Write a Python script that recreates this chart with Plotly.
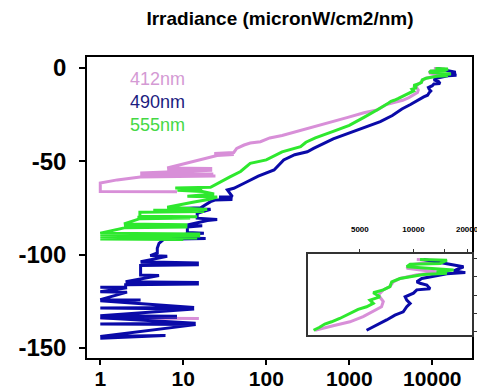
import plotly.graph_objects as go

# ---- data: irradiance (micronW/cm2/nm) vs depth (m) ----
irr_412 = [10440, 14125, 9580, 9170, 11000, 14000, 10500, 8405, 7700, 7380, 6770, 6350, 6770, 6620, 5220, 4400, 3540, 2800,
           2155, 1500, 960, 620, 390, 250, 155, 110, 85, 64, 54, 44, 40.6, 23.6, 40.6, 25.5, 18, 12, 9, 6.4, 22.3, 6.4, 22.3,
           3.03, 23, 3.03, 24.4, 3.03, 1.6, 1.0, 1.0, 8.4,
           None, 1.0, 15.4]
dep_412 = [-0.3, -0.6, -1.8, -2.7, -3.2, -3.8, -4.5, -5.5, -6.4, -7.7, -8.6, -10.0, -11.8, -13.2, -15.9, -17.3, -18.4, -19.6,
           -22.5, -24.0, -26.5, -28.8, -31.5, -33.5, -36.2, -37.5, -39.5, -40.2, -41.3, -43.1, -45.3, -45.8, -46.4, -46.9, -48.5, -50.5, -52.0, -53.6, -53.9, -54.4, -54.8,
           -56.3, -56.8, -57.4, -57.9, -58.4, -60.0, -61.7, -66.2, -66.4,
           None, -134.0, -134.3]

irr_490 = [11380, 14125, 16800, 19100, 16800, 19540, 15410, 12965, 11140, 10440, 10890, 11885, 12400, 10440, 10000, 8980, 9170, 9580, 9170, 8760, 7870, 7070, 6210, 5455,
           4300, 3300, 2362, 1600, 938, 640, 371, 312, 220, 162, 124, 80, 54, 40.6, 34,
           39, 27, 39, 24, 21.3, 16.2, 9.2, 21.3, 14.7, 14.7, 25.6, 19.5, 11.2, 16.9, 11.2, 11.2, 17.7, 11.2,
           5.86, 18.6, 5.86, 5.1, 4.86, 4.86, 4.0, 6.4, 3.06, 15.4, 3.06, 15.4, 3.06, 3.06, 5.1,
           2.02, 15.4, 2.02, 15.4, 2.02, 2.02, 1.0, 2.1, 1.0, 2.1, 1.0, 3.06, 1.0,
           13.5, 1.0, 13.5, 1.0, 8.4, 1.0, 8.4, 1.0, 14.1, 1.0, 14.1, 1.0, 2.4, 6.1, 1.0]
dep_490 = [-0.3, -1.2, -1.8, -2.3, -3.4, -3.9, -4.2, -4.8, -5.5, -6.4, -6.8, -7.3, -8.3, -8.6, -9.5, -10.5, -11.4, -12.3, -13.2, -14.6, -15.5, -16.8, -18.1, -19.6,
           -22.0, -25.5, -28.8, -31.5, -35.0, -38.0, -43.1, -44.9, -46.5, -49.3, -54.7, -58.0, -61.8, -64.5, -65.4,
           -69.0, -69.2, -70.5, -70.8, -71.7, -75.0, -75.3, -75.8, -77.9, -80.5, -81.3, -81.8, -84.2, -84.6, -85.2, -88.2, -88.6, -89.0,
           -91.0, -91.4, -91.8, -94.0, -96.7, -99.2, -100.6, -101.0, -103.9, -104.5, -104.8, -105.5, -105.9, -111.0, -111.3,
           -114.6, -115.0, -115.4, -115.8, -116.2, -117.4, -117.6, -117.8, -120.0, -120.2, -124.2, -124.4, -124.8,
           -128.4, -128.7, -129.2, -132.8, -133.1, -133.4, -133.7, -133.9, -136.9, -137.3, -137.6, -144.0, -143.7, -143.5, -144.9]

irr_555 = [10890, 15410, 14125, 9580, 9170, 11885, 16800, 13500, 15410, 11380, 10000, 8405, 7550, 7380, 6770, 5950, 6480, 5700, 5950, 5455, 4890, 4590, 4207, 3856, 3470, 3180, 2974, 2750,
           2155, 1500, 1000, 640, 390, 300, 259, 155, 120, 100, 64, 49, 36, 28, 21.3, 8.0, 16.9, 8.5, 17, 23.5, 11.2, 25.6, 20, 13, 9, 6.4,
           19.4, 4.35, 17.9, 3.0, 3.0, 14.7, 2.8, 12.1, 3.0, 1.93, 11.2, 1.93, 11.2, 2.0, 1.0, 16, 1.0, 16, 1.0, 14.7, 1.0, 10]
dep_555 = [-0.3, -0.5, -1.4, -1.6, -2.3, -2.7, -3.2, -3.6, -4.1, -4.4, -4.8, -5.5, -6.4, -7.7, -8.6, -9.4, -10.5, -11.4, -12.3, -13.2, -13.9, -14.6, -15.5, -16.4, -17.3, -17.9, -18.8, -19.6,
           -22.5, -26.5, -30.8, -34.0, -37.5, -39.8, -42.2, -45.0, -47.5, -49.3, -51.1, -55.5, -58.5, -61.0, -64.0, -64.4, -64.9, -65.6, -66.2, -67.5, -68.8, -69.2, -70.5, -72.0, -73.5, -74.7,
           -75.9, -76.3, -77.0, -77.3, -79.5, -79.7, -80.0, -80.4, -80.8, -83.6, -84.0, -84.4, -85.3, -85.6, -88.6, -89.0, -89.4, -90.1, -90.5, -91.2, -91.7, -92.0]

names = ["412nm", "490nm", "555nm"]
line_colors = ["#d88fd8", "#0a0aa8", "#2ee82e"]
label_colors = ["#d49ad4", "#1c1c80", "#45d845"]

x_ticks = [1, 10, 100, 1000, 10000]
x_tick_text = ["1", "10", "100", "1000", "10000"]
y_ticks = [0, -50, -100, -150]
y_tick_text = ["0", "-50", "-100", "-150"]
inset_x_ticks = [5000, 10000, 15000, 20000]
inset_x_text = ["5000", "10000", "", "20000"]
inset_y_ticks = [0, -5, -10, -15, -20]
INSET_MIN_DEPTH = -20

series = [(irr_412, dep_412), (irr_490, dep_490), (irr_555, dep_555)]

fig = go.Figure()
for (xs, ys), c in zip(series, line_colors):
    fig.add_trace(go.Scatter(x=xs, y=ys, mode="lines", line=dict(color=c, width=3),
                             xaxis="x", yaxis="y", showlegend=False, connectgaps=False))
for (xs, ys), c in zip(series, line_colors):
    fx = [x for x, y in zip(xs, ys) if y is not None and y >= INSET_MIN_DEPTH]
    fy = [y for x, y in zip(xs, ys) if y is not None and y >= INSET_MIN_DEPTH]
    fig.add_trace(go.Scatter(x=fx, y=fy, mode="lines", line=dict(color=c, width=3),
                             xaxis="x2", yaxis="y2", showlegend=False))

ann = []
for i, (n, c) in enumerate(zip(names, label_colors)):
    ann.append(dict(text=n, xref="paper", yref="paper", x=0.1065, y=[0.927, 0.851, 0.774][i],
                    xanchor="left", yanchor="middle", showarrow=False,
                    font=dict(family="Arial", size=18, color=c)))

fig.update_layout(
    width=477, height=391,
    margin=dict(l=87, r=5, t=57, b=33),
    paper_bgcolor="white", plot_bgcolor="white",
    title=dict(text="Irradiance (micronW/cm2/nm)", xref="container", yref="container",
               x=0.587, y=0.954, xanchor="center", yanchor="middle",
               font=dict(family="Arial", size=19, color="black", weight="bold")),
    xaxis=dict(type="log", range=[-0.16, 4.478], domain=[0, 1], tickvals=x_ticks,
               ticktext=x_tick_text, ticks="outside", ticklen=5, tickwidth=1.5,
               tickcolor="black", showline=True, mirror=True, linecolor="black", linewidth=1.5,
               showgrid=False, zeroline=False, automargin=False, ticklabelstandoff=-4,
               ticklabeloverflow="allow",
               tickfont=dict(family="Arial", size=21, color="black", weight="bold")),
    yaxis=dict(range=[-155.5, 5.9], domain=[0, 1], tickvals=y_ticks, ticktext=y_tick_text,
               ticks="outside", ticklen=6, tickwidth=1.5, tickcolor="black", showline=True,
               mirror=True, linecolor="black", linewidth=1.5, showgrid=False, zeroline=False,
               ticklabelstandoff=8, automargin=False,
               tickfont=dict(family="Arial", size=24, color="black", weight="bold")),
    xaxis2=dict(type="log", range=[3.408, 4.3286], domain=[0.574, 1], anchor="y2", side="top",
                tickvals=inset_x_ticks, ticktext=inset_x_text, ticks="outside", ticklen=3,
                tickcolor="#333", showline=True, mirror=True, linecolor="#333", linewidth=1.5,
                showgrid=False, zeroline=False, ticklabelstandoff=14, automargin=False,
                ticklabeloverflow="allow",
                tickfont=dict(family="Arial", size=8, color="black", weight="bold")),
    yaxis2=dict(range=[-20.9, 1.17], domain=[0.0764, 0.3455], anchor="x2", side="right",
                tickvals=inset_y_ticks, ticks="outside", ticklen=3, tickcolor="#333",
                showticklabels=False, showline=True, mirror=True, linecolor="#333",
                linewidth=1.5, showgrid=False, zeroline=False, automargin=False),
    annotations=ann,
)

fig.write_html("out.html")
